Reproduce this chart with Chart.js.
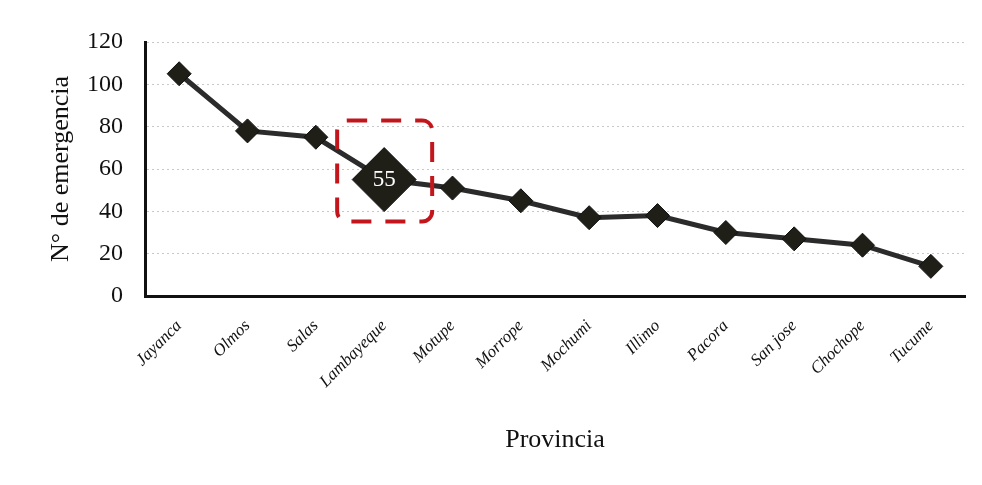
<!DOCTYPE html>
<html>
<head>
<meta charset="utf-8">
<script src="https://cdn.jsdelivr.net/npm/chart.js@4/dist/chart.umd.min.js"></script>
<style>
  html, body { margin: 0; padding: 0; background: #fff; }
  #wrap { width: 982px; height: 485px; position: relative; }
</style>
</head>
<body>
<div id="wrap"><canvas id="emergGraph"></canvas></div>
<script>
// data
const provincias = ['Jayanca', 'Olmos', 'Salas', 'Lambayeque', 'Motupe', 'Morrope', 'Mochumi', 'Illimo', 'Pacora', 'San jose', 'Chochope', 'Tucume'];
const emergencias = [105, 78, 75, 55, 51, 45, 37, 38, 30, 27, 24, 14];
const yTicks = [0, 20, 40, 60, 80, 100, 120];
const destacado = 3; // Lambayeque

const serif = "'Liberation Serif', 'DejaVu Serif', serif";

// red dashed box + value label on the highlighted point
const highlightPlugin = {
	id: 'highlight',
	afterDatasetsDraw(chart) {
		const pt = chart.getDatasetMeta(0).data[destacado];
		if (!pt) return;
		const ctx = chart.ctx;
		ctx.save();
		ctx.strokeStyle = '#c3161c';
		ctx.lineWidth = 4;
		ctx.setLineDash([20, 14]);
		ctx.beginPath();
		ctx.roundRect(pt.x - 47, pt.y - 59, 95, 101, 10);
		ctx.stroke();
		ctx.setLineDash([]);
		ctx.fillStyle = '#fff';
		ctx.font = "23px " + serif;
		ctx.textAlign = 'center';
		ctx.textBaseline = 'middle';
		ctx.fillText(String(emergencias[destacado]), pt.x, pt.y);
		ctx.restore();
	}
};

let radios = emergencias.map((v, i) => i === destacado ? 32 : 12);

new Chart(document.getElementById('emergGraph'), {
	type: 'line',
	data: {
		labels: provincias,
		datasets: [{
			data: emergencias,
			borderColor: '#2b2b2b',
			borderWidth: 5,
			pointStyle: 'rectRot',
			pointRadius: radios,
			pointHoverRadius: radios,
			pointBackgroundColor: '#1f1f18',
			pointBorderColor: '#111',
			pointBorderWidth: 1,
			tension: 0
		}]
	},
	options: {
		responsive: true,
		maintainAspectRatio: false,
		animation: false,
		layout: { padding: { top: 42, right: 17, bottom: 0, left: 0 } },
		plugins: {
			legend: { display: false },
			tooltip: { enabled: false }
		},
		scales: {
			x: {
				offset: true,
				grid: { display: false, drawTicks: false },
				border: { display: true, color: '#111', width: 3 },
				ticks: {
					color: '#111',
					font: { family: serif, size: 17, style: 'italic' },
					maxRotation: 45,
					minRotation: 45,
					padding: 20
				},
				title: {
					display: true,
					text: 'Provincia',
					color: '#111',
					font: { family: serif, size: 26 },
					padding: { top: 0, bottom: 29 }
				},
				afterFit(scale) { scale.height = 189; }
			},
			y: {
				min: 0,
				max: 120,
				afterBuildTicks(scale) { scale.ticks = yTicks.map(v => ({ value: v })); },
				grid: { color: '#c8c8c8', lineWidth: 1, drawTicks: false },
				border: { display: true, color: '#111', width: 3, dash: [2, 3] },
				ticks: {
					color: '#111',
					font: { family: serif, size: 24 },
					padding: 22
				},
				title: {
					display: true,
					text: 'N° de emergencia',
					color: '#111',
					font: { family: serif, size: 26 },
					padding: { top: 46, bottom: 0 }
				},
				afterFit(scale) { scale.width = 145; }
			}
		}
	},
	plugins: [highlightPlugin]
});
</script>
</body>
</html>
